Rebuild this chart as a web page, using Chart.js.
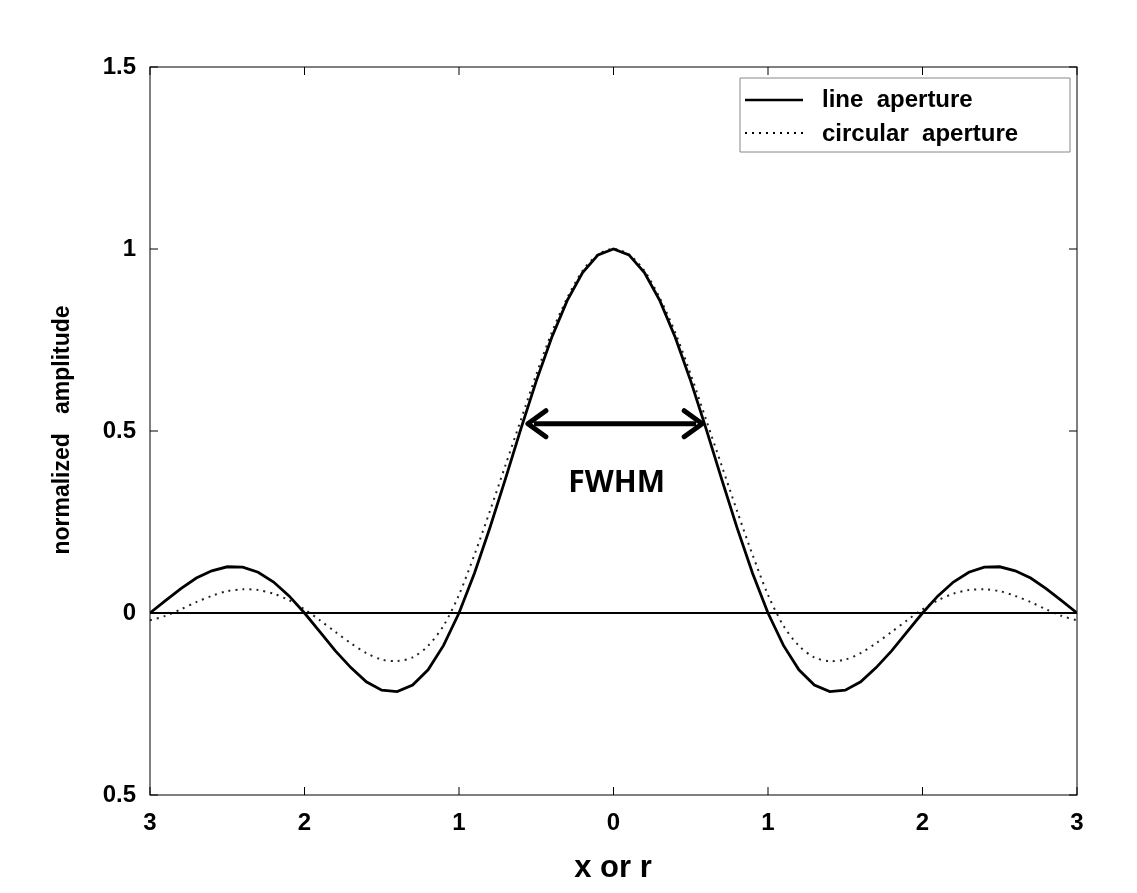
<!DOCTYPE html>
<html><head><meta charset="utf-8">
<script src="https://cdn.jsdelivr.net/npm/chart.js@4"></script>
<style>body{margin:0;background:#fff}#w{width:1137px;height:893px}</style>
</head><body><div id="w"><canvas id="c"></canvas></div>
<script>
const xValues=[-3,-2.9,-2.8,-2.7,-2.6,-2.5,-2.4,-2.3,-2.2,-2.1,-2,-1.9,-1.8,-1.7,-1.6,-1.5,-1.4,-1.3,-1.2,-1.1,-1,-0.9,-0.8,-0.7,-0.6,-0.5,-0.4,-0.3,-0.2,-0.1,0,0.1,0.2,0.3,0.4,0.5,0.6,0.7,0.8,0.9,1,1.1,1.2,1.3,1.4,1.5,1.6,1.7,1.8,1.9,2,2.1,2.2,2.3,2.4,2.5,2.6,2.7,2.8,2.9,3];
const lineAperture=[0,0.034,0.067,0.096,0.116,0.127,0.126,0.112,0.085,0.047,0,-0.052,-0.104,-0.150,-0.189,-0.212,-0.216,-0.198,-0.156,-0.089,0,0.109,0.234,0.368,0.505,0.637,0.757,0.858,0.935,0.984,1,0.984,0.935,0.858,0.757,0.637,0.505,0.368,0.234,0.109,0,-0.089,-0.156,-0.198,-0.216,-0.212,-0.189,-0.150,-0.104,-0.052,0,0.047,0.085,0.112,0.126,0.127,0.116,0.096,0.067,0.034,0];
const circularAperture=[-0.02,-0.008,0.01,0.03,0.047,0.06,0.065,0.063,0.053,0.035,0.01,-0.02,-0.052,-0.083,-0.11,-0.128,-0.132,-0.122,-0.09,-0.035,0.05,0.16,0.28,0.405,0.53,0.655,0.77,0.865,0.94,0.985,1,0.985,0.94,0.865,0.77,0.655,0.53,0.405,0.28,0.16,0.05,-0.035,-0.09,-0.122,-0.132,-0.128,-0.11,-0.083,-0.052,-0.02,0.01,0.035,0.053,0.063,0.065,0.06,0.047,0.03,0.01,-0.008,-0.02];
const xTicks=[-3,-2,-1,0,1,2,3];
const yTicks=[-0.5,0,0.5,1,1.5];
const fwhm=[-0.58,0.6,0.52];

const F='"Liberation Sans", Arial, sans-serif';
const pts=a=>xValues.map((x,i)=>({x,y:a[i]}));
const deco={id:'deco',afterDraw(ch){
  const c=ch.ctx,a=ch.chartArea,xs=ch.scales.x,ys=ch.scales.y;
  c.save();
  c.strokeStyle='#000';c.lineWidth=1;c.strokeRect(a.left,a.top,a.right-a.left,a.bottom-a.top);
  xTicks.forEach(v=>{const p=xs.getPixelForValue(v);c.beginPath();c.moveTo(p,a.bottom);c.lineTo(p,a.bottom-8);c.moveTo(p,a.top);c.lineTo(p,a.top+8);c.stroke();});
  yTicks.forEach(v=>{const p=ys.getPixelForValue(v);c.beginPath();c.moveTo(a.left,p);c.lineTo(a.left+8,p);c.moveTo(a.right,p);c.lineTo(a.right-8,p);c.stroke();});
  c.lineWidth=2;c.beginPath();c.moveTo(a.left,ys.getPixelForValue(0));c.lineTo(a.right,ys.getPixelForValue(0));c.stroke();
  const x1=xs.getPixelForValue(fwhm[0]),x2=xs.getPixelForValue(fwhm[1]),y=ys.getPixelForValue(fwhm[2]);
  c.lineWidth=5;c.beginPath();c.moveTo(x1+10,y);c.lineTo(x2-10,y);c.stroke();
  c.lineJoin='round';c.lineCap='round';
  c.beginPath();c.moveTo(x1+22,y-13);c.lineTo(x1+4,y);c.lineTo(x1+22,y+13);c.stroke();
  c.beginPath();c.moveTo(x2-22,y-13);c.lineTo(x2-4,y);c.lineTo(x2-22,y+13);c.stroke();
  c.lineCap='butt';
  c.fillStyle='#000';c.font='bold 30px "Open Sans", Calibri, sans-serif';c.textAlign='center';c.textBaseline='middle';
  c.fillText('FWHM',xs.getPixelForValue(0.02),ys.getPixelForValue(0.355));
  c.lineWidth=1;c.strokeStyle='#888';c.fillStyle='#fff';c.fillRect(740,78,330,74);c.strokeRect(740,78,330,74);
  c.strokeStyle='#000';c.lineWidth=2.5;c.beginPath();c.moveTo(745,100);c.lineTo(803,100);c.stroke();
  c.setLineDash([2,5]);c.lineWidth=2;c.beginPath();c.moveTo(745,133);c.lineTo(803,133);c.stroke();c.setLineDash([]);
  c.fillStyle='#000';c.font='bold 24px '+F;c.textAlign='left';
  c.fillText('line  aperture',822,100);c.fillText('circular  aperture',822,134);
  c.font='bold 31px '+F;c.textAlign='center';c.fillText('x or r',613,868);
  c.save();c.translate(63,430);c.rotate(-Math.PI/2);c.font='bold 23px '+F;c.fillText('normalized   amplitude',0,0);c.restore();
  c.restore();
}};
new Chart(document.getElementById('c'),{type:'line',
 data:{datasets:[
  {data:pts(lineAperture),borderColor:'#000',borderWidth:2.8,pointRadius:0,tension:0},
  {data:pts(circularAperture),borderColor:'#222',borderWidth:2,borderDash:[2,5],pointRadius:0,tension:0.3}]},
 options:{responsive:true,maintainAspectRatio:false,animation:false,
  layout:{padding:{left:0,top:67,right:60,bottom:0}},
  plugins:{legend:{display:false},tooltip:{enabled:false}},
  scales:{
   x:{type:'linear',min:-3,max:3,grid:{display:false},border:{display:false},
      afterFit(s){s.height=98;},
      afterBuildTicks(s){s.ticks=xTicks.map(v=>({value:v}));},
      ticks:{color:'#000',font:{family:F,size:24,weight:'bold'},padding:6,callback:v=>String(Math.abs(v))}},
   y:{min:-0.5,max:1.5,grid:{display:false},border:{display:false},
      afterFit(s){s.width=150;},
      afterBuildTicks(s){s.ticks=yTicks.map(v=>({value:v}));},
      ticks:{color:'#000',font:{family:F,size:24,weight:'bold'},padding:6,callback:v=>String(Math.abs(v))}}}},
 plugins:[deco]});
</script></body></html>
